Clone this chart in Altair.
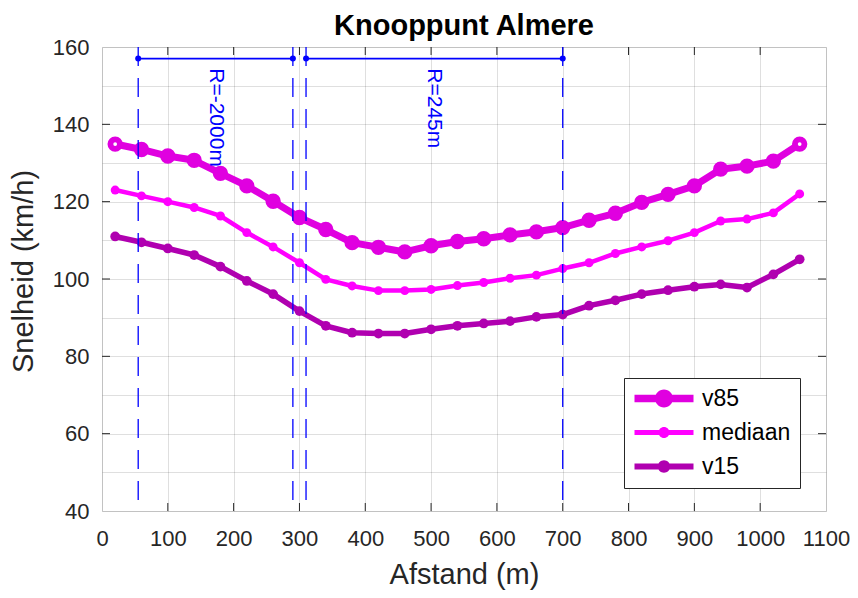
import altair as alt
import pandas as pd

# ---------------- data ----------------
afstand = [20, 60, 100, 140, 180, 220, 260, 300, 340, 380, 420, 460, 500, 540,
           580, 620, 660, 700, 740, 780, 820, 860, 900, 940, 980, 1020, 1060]
v85 = [134.9, 133.5, 131.8, 130.7, 127.3, 124.1, 120.1, 115.9, 112.8, 109.4, 108.2, 107.0, 108.6, 109.7,
       110.4, 111.4, 112.2, 113.3, 115.2, 117.0, 119.8, 121.9, 124.1, 128.4, 129.2, 130.5, 134.9]
mediaan = [123.0, 121.5, 120.0, 118.5, 116.3, 112.0, 108.3, 104.2, 99.9, 98.2, 97.0, 97.0, 97.3, 98.3,
           99.1, 100.2, 101.0, 102.7, 104.2, 106.6, 108.3, 109.9, 112.0, 115.0, 115.5, 117.1, 122.0]
v15 = [111.0, 109.5, 107.9, 106.2, 103.2, 99.5, 96.1, 91.7, 87.9, 86.1, 85.9, 85.9, 87.0, 87.9,
       88.5, 89.1, 90.2, 90.8, 93.1, 94.5, 96.1, 97.1, 98.0, 98.6, 97.8, 101.2, 105.1]

names = ["v85", "mediaan", "v15"]
colors = ["#E000E0", "#FF00FF", "#B000B0"]
line_widths = [7, 4.5, 5.5]
marker_sizes = [235, 80, 95]

# radius sections
bound_x = [55, 290, 310, 700]
seg_from = [55, 310]
seg_to = [290, 700]
seg_level = 157
seg_labels = ["R=-2000m", "R=245m"]
label_level = 154.5

x_ticks = [0, 100, 200, 300, 400, 500, 600, 700, 800, 900, 1000, 1100]
y_grid = [40, 50, 60, 70, 80, 90, 100, 110, 120, 130, 140, 150, 160]
y_ticks = [60, 80, 100, 120, 140]
x_inner = [100, 200, 300, 400, 500, 600, 700, 800, 900, 1000]

W, H = 724, 464
FONT = "Liberation Sans"
BLUE = "#0000FF"

# ---------------- tables ----------------
rows = []
for name, vals in zip(names, [v85, mediaan, v15]):
    for a, s in zip(afstand, vals):
        rows.append({"afstand": a, "snelheid": s, "reeks": name})
df = pd.DataFrame(rows)

df_bounds = pd.DataFrame({"afstand": bound_x})
df_seg = pd.DataFrame({"afstand": seg_from, "afstand2": seg_to,
                       "snelheid": [seg_level] * len(seg_from)})
df_dots = pd.DataFrame({"afstand": bound_x, "snelheid": [seg_level] * len(bound_x)})
df_lab = pd.DataFrame({"afstand": [(a + b) / 2 for a, b in zip(seg_from, seg_to)],
                       "snelheid": [label_level] * len(seg_from), "txt": seg_labels})
df_xt = pd.DataFrame({"afstand": x_inner})
df_yt = pd.DataFrame({"snelheid": y_ticks})

xaxis = alt.Axis(values=x_ticks, title="Afstand (m)", grid=True, ticks=False, domain=False, format="d",
                 labelFontSize=22, labelFont=FONT, labelColor="#262626", labelPadding=17,
                 titleFontSize=29, titleFont=FONT, titleFontWeight="normal", titleColor="#262626",
                 titleBaseline="alphabetic", titleY=72,
                 gridColor="#262626", gridOpacity=0.15, labelFlush=False, labelOverlap=False)
yaxis = alt.Axis(values=y_grid, title="Snelheid (km/h)", grid=True, ticks=False, domain=False,
                 labelExpr="datum.value % 20 === 0 ? datum.label : ''",
                 labelFontSize=22, labelFont=FONT, labelColor="#262626", labelPadding=13,
                 titleFontSize=29, titleFont=FONT, titleFontWeight="normal", titleColor="#262626",
                 titleBaseline="alphabetic", titleX=-70, titleY=224, titleAngle=-90,
                 gridColor="#262626", gridOpacity=0.15, labelFlush=False, labelOverlap=False)

xs = alt.Scale(domain=[0, 1100], nice=False, zero=False)
ys = alt.Scale(domain=[40, 160], nice=False, zero=False)


def X(field="afstand"):
    return alt.X(field + ":Q", scale=xs, axis=xaxis)


def Y(field="snelheid"):
    return alt.Y(field + ":Q", scale=ys, axis=yaxis)


# legend symbols: line segment (59px) + marker as one path; unit = 10px (symbolSize 400)
def sym(r, h, x0=-1.0, x1=4.9):
    cx = (x0 + x1) / 2
    return (f"M{x0},-{h}L{x1},-{h}L{x1},{h}L{x0},{h}Z"
            f"M{cx + r},0A{r},{r} 0 1,1 {cx - r},0A{r},{r} 0 1,1 {cx + r},0Z")

paths = [sym(0.9, 0.37), sym(0.55, 0.25), sym(0.62, 0.3)]
leg = alt.Legend(title=None, orient="none", legendX=522, legendY=331, padding=9,
                 strokeColor="#262626", fillColor="white", labelFont=FONT, labelFontSize=23,
                 labelColor="black", symbolSize=400, symbolStrokeWidth=0, labelOffset=46,
                 rowPadding=10, symbolOpacity=1)

color_enc = alt.Color("reeks:N", scale=alt.Scale(domain=names, range=colors), legend=leg)

series_layers = []
for name, lw in zip(names, line_widths):
    series_layers.append(
        alt.Chart(df).mark_line(strokeJoin="round", strokeWidth=lw).encode(
            x=X(), y=Y(), color=color_enc, order=alt.Order("afstand:Q"),
        ).transform_filter(alt.datum.reeks == name)
    )
for name, ms in zip(names, marker_sizes):
    series_layers.append(
        alt.Chart(df).mark_point(filled=True, opacity=1, size=ms).encode(
            x=X(), y=Y(), color=color_enc,
        ).transform_filter(alt.datum.reeks == name)
    )

ends = alt.Chart(df).mark_point(filled=True, opacity=1, color="white", size=14).encode(
    x=X(), y=Y()
).transform_filter(
    (alt.datum.reeks == names[0]) & ((alt.datum.afstand == afstand[0]) | (alt.datum.afstand == afstand[-1]))
)
legend_layer = alt.Chart(df).mark_point(filled=True, opacity=0).encode(
    x=X(), y=Y(), color=color_enc,
    shape=alt.Shape("reeks:N", scale=alt.Scale(domain=names, range=paths), legend=leg),
)

vrules = alt.Chart(df_bounds).mark_rule(color=BLUE, strokeWidth=1.3, strokeDash=[19, 12]).encode(
    x=X(), y=alt.value(0), y2=alt.value(H)
)
hsegs = alt.Chart(df_seg).mark_rule(color=BLUE, strokeWidth=1.6).encode(
    x=X(), x2="afstand2:Q", y=Y()
)
dots = alt.Chart(df_dots).mark_point(filled=True, opacity=1, color=BLUE, size=36).encode(
    x=X(), y=Y()
)
labels = alt.Chart(df_lab).mark_text(angle=90, align="left", baseline="middle", fontSize=21,
                                      font=FONT, color=BLUE).encode(
    x=X(), y=Y(), text="txt:N"
)

tick_style = dict(color="#262626", strokeWidth=1)
xt_bottom = alt.Chart(df_xt).mark_rule(**tick_style).encode(x=X(), y=alt.value(H), y2=alt.value(H - 8))
xt_top = alt.Chart(df_xt).mark_rule(**tick_style).encode(x=X(), y=alt.value(0), y2=alt.value(8))
yt_left = alt.Chart(df_yt).mark_rule(**tick_style).encode(y=Y(), x=alt.value(0), x2=alt.value(8))
yt_right = alt.Chart(df_yt).mark_rule(**tick_style).encode(y=Y(), x=alt.value(W), x2=alt.value(W - 8))

chart = alt.layer(
    xt_bottom, xt_top, yt_left, yt_right,
    *series_layers, ends, legend_layer, vrules, hsegs, dots, labels,
).properties(
    width=W, height=H,
    autosize=alt.AutoSizeParams(type="none"),
    padding={"left": 94, "top": 39, "right": 24, "bottom": 79},
    title=alt.TitleParams("Knooppunt Almere", fontSize=29, font=FONT, fontWeight="bold",
                          color="black", anchor="middle", offset=-5),
).configure_view(stroke="#262626", strokeWidth=1).configure(background="white")

chart.save("out.html", embed_options={"renderer": "svg", "actions": False})
